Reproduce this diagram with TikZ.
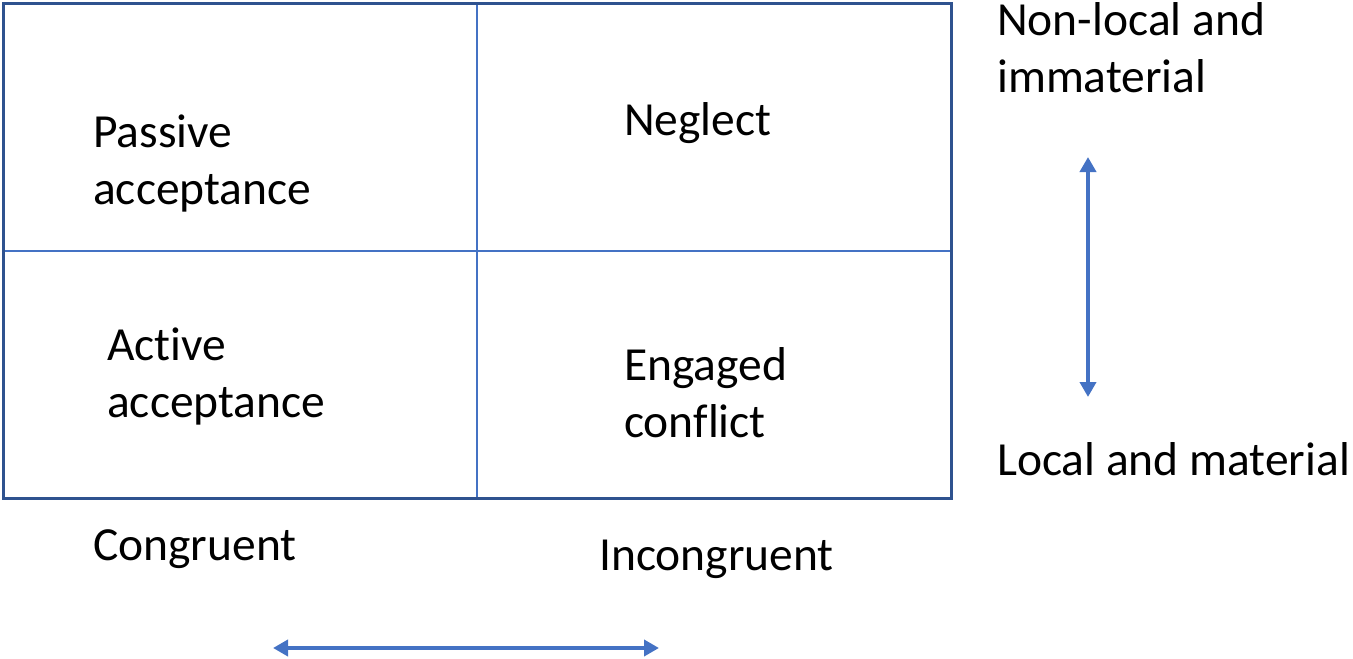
\documentclass[tikz,border=0pt]{standalone}
\usepackage{fontspec}
\setmainfont[Ligatures=NoCommon]{Carlito}
\usetikzlibrary{arrows.meta}
\definecolor{outerblue}{HTML}{2F528F}
\definecolor{acc}{HTML}{4472C4}
\begin{document}
\begin{tikzpicture}[x=1pt,y=-1pt,
  lbl/.style={anchor=base west,inner sep=0pt,align=left,font=\fontsize{47.5}{57}\selectfont},
  arr/.style={draw=acc,line width=4.5pt,{Triangle[width=16pt,length=15pt]}-{Triangle[width=16pt,length=15pt]}}]
\useasboundingbox (0,0) rectangle (1353,659);
\draw[acc,line width=1.3pt] (477,3) -- (477,498);
\draw[acc,line width=1.3pt] (3,251) -- (951,251);
\draw[outerblue,line width=3pt] (3,3) rectangle (951,498);
\node[lbl] (pa) at (93,204) {Passive\\acceptance};
\node[lbl] (ne) at (624,135) {Neglect};
\node[lbl] (aa) at (107,417) {Active\\acceptance};
\node[lbl] (ec) at (624,437) {Engaged\\conflict};
\node[lbl] (nl) at (997,92) {Non-local and\\immaterial};
\node[lbl] (lm) at (997,475) {Local and material};
\node[lbl] (co) at (93,560) {Congruent};
\node[lbl] (in) at (599,570) {Incongruent};
\coordinate (vt) at (1088,157);
\coordinate (vb) at (1088,397);
\coordinate (hl) at (273,648);
\coordinate (hr) at (659,648);
\draw[arr] (vt) -- (vb);
\draw[arr] (hl) -- (hr);
\end{tikzpicture}
\end{document}
